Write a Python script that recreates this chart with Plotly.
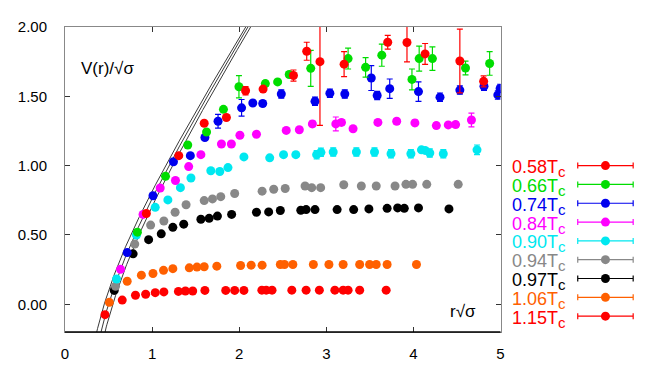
import numpy as np
import plotly.graph_objects as go

# temperatures and their colours (legend order)
labels = ['0.58', '0.66', '0.74', '0.84', '0.90', '0.94', '0.97', '1.06', '1.15']
colors = ['#ff0000', '#00dd00', '#0000ee', '#ff00ff', '#00e8f0',
          '#888888', '#000000', '#ff6000', '#ff0000']

# r*sqrt(sigma), V/sqrt(sigma), error
r_058 = [0.934, 1.306, 1.598, 1.853, 2.073, 2.274, 2.623, 2.775, 2.927, 3.204,
         3.705, 3.926, 4.134, 4.533, 4.806]
v_058 = [0.655, 1.072, 1.306, 1.347, 1.540, 1.552, 1.650, 1.825, 1.750, 1.732,
         1.890, 1.888, 1.806, 1.755, 1.608]
e_058 = [0, 0, 0, 0, 0.03, 0, 0.04, 0.065, 0.46, 0.09,
         0.05, 0.14, 0.075, 0.23, 0.04]

r_066 = [0.831, 1.154, 1.409, 1.625, 1.819, 1.997, 2.300, 2.441, 2.574, 2.821,
         3.250, 3.451, 3.637, 3.983, 4.066, 4.218, 4.598, 4.875]
v_066 = [0.520, 0.923, 1.149, 1.243, 1.406, 1.569, 1.592, 1.604, 1.657, 1.702,
         1.772, 1.709, 1.797, 1.622, 1.772, 1.772, 1.704, 1.737]
e_066 = [0, 0, 0, 0, 0, 0.08, 0.02, 0, 0.02, 0.13,
         0.075, 0.07, 0.08, 0.075, 0.09, 0.085, 0.05, 0.085]

r_074 = [0.714, 1.010, 1.245, 1.439, 1.606, 1.757, 2.027, 2.156, 2.270, 2.483,
         2.870, 3.041, 3.212, 3.516, 3.584, 3.728, 4.058, 4.305, 4.533, 4.810,
         4.969, 4.995]
v_074 = [0.373, 0.783, 1.028, 1.072, 1.203, 1.320, 1.417, 1.452, 1.448, 1.517,
         1.464, 1.522, 1.517, 1.632, 1.506, 1.555, 1.534, 1.494, 1.545, 1.573,
         1.510, 1.557]
e_074 = [0, 0, 0, 0, 0, 0.05, 0.06, 0, 0.02, 0.03,
         0.03, 0.03, 0.03, 0.09, 0.03, 0.07, 0.07, 0.03, 0.03, 0.03,
         0.03, 0.03]

r_084 = [0.638, 0.896, 1.093, 1.268, 1.420, 1.560, 1.796, 1.910, 2.008, 2.198,
         2.540, 2.690, 2.840, 3.109, 3.174, 3.307, 3.592, 3.808, 4.017, 4.263,
         4.400, 4.484, 4.666]
v_084 = [0.252, 0.648, 0.839, 0.893, 0.993, 1.079, 1.156, 1.156, 1.219, 1.226,
         1.254, 1.259, 1.301, 1.301, 1.312, 1.266, 1.312, 1.320, 1.308, 1.289,
         1.294, 1.296, 1.329]
e_084 = [0, 0, 0, 0, 0, 0, 0, 0, 0, 0,
         0, 0, 0.02, 0.05, 0.02, 0, 0.02, 0.02, 0.02, 0.02,
         0, 0.02, 0.05]

r_090 = [0.592, 0.820, 1.036, 1.181, 1.325, 1.446, 1.674, 1.777, 1.871, 2.054,
         2.350, 2.509, 2.650, 2.889, 2.938, 3.079, 3.345, 3.553, 3.743, 3.971,
         4.092, 4.134, 4.188, 4.343, 4.730]
v_090 = [0.182, 0.500, 0.699, 0.753, 0.841, 0.911, 0.963, 0.958, 0.986, 1.063,
         1.056, 1.079, 1.079, 1.079, 1.096, 1.098, 1.098, 1.098, 1.086, 1.086,
         1.114, 1.110, 1.091, 1.086, 1.114]
e_090 = [0, 0, 0, 0, 0, 0, 0, 0, 0, 0,
         0, 0, 0, 0.03, 0.03, 0.03, 0.03, 0.03, 0.03, 0.03,
         0, 0, 0.03, 0.03, 0.035]

r_094 = [0.580, 0.801, 0.983, 1.135, 1.264, 1.390, 1.598, 1.693, 1.788, 1.948,
         2.263, 2.396, 2.528, 2.756, 2.832, 2.935, 3.200, 3.402, 3.573, 3.789,
         3.914, 3.990, 4.153, 4.514]
v_094 = [0.130, 0.434, 0.571, 0.601, 0.664, 0.718, 0.748, 0.760, 0.776, 0.799,
         0.816, 0.830, 0.835, 0.853, 0.841, 0.841, 0.862, 0.853, 0.853, 0.853,
         0.865, 0.865, 0.865, 0.865]

r_097 = [0.565, 0.782, 0.960, 1.105, 1.238, 1.363, 1.560, 1.655, 1.750, 1.913,
         2.198, 2.338, 2.472, 2.707, 2.768, 2.870, 3.124, 3.314, 3.489, 3.698,
         3.819, 3.895, 4.058, 4.408]
v_097 = [0.100, 0.364, 0.466, 0.508, 0.555, 0.578, 0.613, 0.620, 0.636, 0.648,
         0.664, 0.666, 0.676, 0.678, 0.683, 0.683, 0.683, 0.683, 0.688, 0.692,
         0.695, 0.692, 0.695, 0.688]

r_106 = [0.509, 0.714, 0.877, 1.010, 1.131, 1.238, 1.427, 1.515, 1.598, 1.743,
         2.016, 2.137, 2.263, 2.472, 2.520, 2.616, 2.851, 3.030, 3.193, 3.383,
         3.497, 3.573, 3.698, 4.035]
v_106 = [0.014, 0.166, 0.210, 0.222, 0.245, 0.257, 0.263, 0.268, 0.271, 0.275,
         0.280, 0.282, 0.282, 0.287, 0.287, 0.287, 0.287, 0.287, 0.287, 0.287,
         0.287, 0.287, 0.287, 0.287]

r_115 = [0.459, 0.657, 0.809, 0.926, 1.036, 1.135, 1.302, 1.382, 1.466, 1.606,
         1.845, 1.948, 2.054, 2.260, 2.310, 2.377, 2.604, 2.768, 2.920, 3.098,
         3.193, 3.250, 3.383, 3.687]
v_115 = [-0.075, 0.030, 0.065, 0.072, 0.084, 0.089, 0.093, 0.096, 0.096, 0.100,
         0.100, 0.100, 0.100, 0.102, 0.102, 0.102, 0.102, 0.102, 0.102, 0.102,
         0.102, 0.102, 0.102, 0.102]

series_r = [r_058, r_066, r_074, r_084, r_090, r_094, r_097, r_106, r_115]
series_v = [v_058, v_066, v_074, v_084, v_090, v_094, v_097, v_106, v_115]
series_e = [e_058, e_066, e_074, e_084, e_090, None, None, None, None]

# Cornell-type curves V = c - a/r + r  (band of three)
curve_a = [0.217, 0.262, 0.309]
curve_c = [0.032, 0.025, 0.015]

fig = go.Figure()

rr = np.linspace(0.3, 2.3, 300)
for a, c in zip(curve_a, curve_c):
    fig.add_trace(go.Scatter(
        x=rr, y=c - a / rr + rr, mode='lines',
        line=dict(color='#222222', width=0.9),
        showlegend=False, hoverinfo='skip'))

# hot first, cold ones drawn on top
for i in reversed(range(len(labels))):
    err = series_e[i]
    fig.add_trace(go.Scatter(
        x=series_r[i], y=series_v[i], mode='markers',
        marker=dict(color=colors[i], size=9),
        error_y=dict(type='data', array=err, visible=err is not None,
                     color=colors[i], thickness=1.2, width=3),
        showlegend=False))

# legend samples on a helper axis, text on the left of them
for i, lab in enumerate(labels):
    fig.add_trace(go.Scatter(
        x=[0.5], y=[i], mode='markers',
        marker=dict(color=colors[i], size=9),
        error_x=dict(type='constant', value=0.4, thickness=1.2, width=3, color=colors[i]),
        xaxis='x2', yaxis='y2', showlegend=False, hoverinfo='skip'))
    fig.add_annotation(
        x=450 / 591, y=i, xref='paper', yref='y2', xanchor='left', yanchor='middle',
        yshift=-3, showarrow=False,
        text=f"{lab}T<sub><span style='font-size:15px'>c</span></sub>",
        font=dict(family='Liberation Sans, Arial', size=18, color=colors[i]))

fig.add_annotation(x=0.032, y=0.863, xref='x domain', yref='y domain',
                   xanchor='left', yanchor='middle', showarrow=False,
                   text='V(r)/√σ', font=dict(size=17, color='black'))
fig.add_annotation(x=0.88, y=0.067, xref='x domain', yref='y domain',
                   xanchor='left', yanchor='middle', showarrow=False,
                   text='r√σ', font=dict(size=17, color='black'))

fig.add_shape(type='line', xref='x domain', yref='y domain',
              x0=0, x1=1, y0=0, y1=0, line=dict(color='black', width=1.5))

axis_style = dict(showgrid=False, zeroline=False, showline=True,
                  linecolor='#888888', linewidth=1, mirror='allticks',
                  ticks='inside', ticklen=5, tickcolor='#333333',
                  tickfont=dict(size=15, color='black'))

# page body adds 8px offset, so the figure is 8px smaller with shifted margins
fig.update_layout(
    width=656, height=364,
    margin=dict(l=55, r=10, t=12, b=38),
    paper_bgcolor='white', plot_bgcolor='white',
    font=dict(family='Liberation Sans, Arial'),
    xaxis=dict(domain=[0, 440 / 591], range=[0, 5], tickvals=[0, 1, 2, 3, 4, 5],
               ticklabelstandoff=8, **axis_style),
    yaxis=dict(range=[-0.2, 2.0], tickvals=[0, 0.5, 1.0, 1.5, 2.0],
               ticktext=['0.00', '0.50', '1.00', '1.50', '2.00'],
               ticklabelstandoff=14, **axis_style),
    xaxis2=dict(domain=[511 / 591, 581 / 591], range=[0, 1], visible=False, anchor='y2'),
    yaxis2=dict(domain=[0, 1], range=[8.843, -7.367], visible=False, anchor='x2'),
)

fig.write_html('out.html')
